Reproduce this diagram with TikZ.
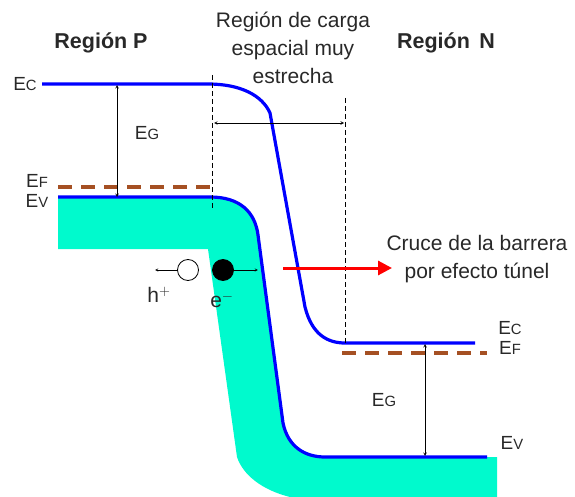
\documentclass[tikz,border=0pt]{standalone}
\usepackage{fontspec}
\setmainfont{Liberation Sans}
\usepackage{graphicx}
\usetikzlibrary{arrows.meta,positioning}
\definecolor{valcol}{RGB}{0,250,205}
\definecolor{fermicol}{RGB}{165,80,35}
\definecolor{txtcol}{RGB}{40,40,40}
\newcommand{\lev}[1]{E\scalebox{0.78}{#1}}

\begin{document}
\begin{tikzpicture}[
        >=stealth,
        x=1pt, y=-1pt,
        banda/.style={blue, line width=3.2pt, line join=round},
        fermi/.style={fermicol, line width=3.4pt, dash pattern=on 14pt off 9pt},
        borde/.style={black, thin, dash pattern=on 5pt off 3pt},
        medida/.style={<->, black, semithick},
        lbl/.style={text=txtcol, inner sep=0pt, font=\fontsize{19}{20}\selectfont},
        titulo/.style={text=txtcol, inner sep=0pt, font=\fontsize{21.5}{24}\selectfont\bfseries},
        nota/.style={text=txtcol, inner sep=0pt, align=center, font=\fontsize{21}{28}\selectfont},
        carga/.style={circle, draw=black, thick, minimum size=21pt, inner sep=0pt}
        ]
        \useasboundingbox (0,0) rectangle (575,497);

        % banda de valencia
        \fill[valcol] (58,197) -- (210,197) .. controls (240,197) and (255,212) .. (258,235)
            -- (283,423) .. controls (288,447) and (305,457) .. (325,457) -- (497,457)
            -- (497,497) -- (290,497) .. controls (262,490) and (243,475) .. (237,457)
            -- (208,249) -- (58,249) -- cycle;
        \draw[banda] (58,197) -- (210,197) .. controls (240,197) and (255,212) .. (258,235)
            -- (283,423) .. controls (288,447) and (305,457) .. (325,457) -- (487,457);

        % banda de conduccion
        \draw[banda] (42,84) -- (208,84) .. controls (240,84) and (262,95) .. (270,113)
            -- (305,307) .. controls (312,335) and (328,343) .. (345,343) -- (475,343);

        % niveles de Fermi
        \draw[fermi] (58,187) -- (211,187);
        \draw[fermi] (342,353) -- (487,353);

        % zona de carga espacial
        \coordinate (zi) at (212,75);
        \coordinate (zib) at (212,210);
        \coordinate (zd) at (345,98);
        \coordinate (zdb) at (345,343);
        \draw[borde] (zi) -- (zib);
        \draw[borde] (zd) -- (zdb);
        \coordinate (ai) at (214,123);
        \coordinate (ad) at (344,123);
        \draw[medida] (ai) -- (ad);

        % gaps
        \coordinate (gp1) at (117,85);
        \coordinate (gp2) at (117,197);
        \coordinate (gn1) at (425,344);
        \coordinate (gn2) at (425,456);
        \draw[medida] (gp1) -- (gp2);
        \draw[medida] (gn1) -- (gn2);

        % textos
        \node[titulo] (rp) at (101,43) {Región P};
        \node[titulo] (rn) at (446,43) {Región\, N};
        \node[nota] (zona) at (293,48) {Región de carga\\espacial muy\\estrecha};
        \node[nota] (tunel) at (477,259) {Cruce de la barrera\\por efecto túnel};

        \node[lbl] (ecp) at (25,84) {\lev{C}};
        \node[lbl] (efp) at (37,181) {\lev{F}};
        \node[lbl, below=6pt of efp] (evp) {\lev{V}};
        \node[lbl] (egp) at (147,133) {\lev{G}};
        \node[lbl] (ecn) at (510,328) {\lev{C}};
        \node[lbl, below=6pt of ecn] (efn) {\lev{F}};
        \node[lbl] (egn) at (384,400) {\lev{G}};
        \node[lbl] (evn) at (512,443) {\lev{V}};

        % hueco y electron
        \node[carga, fill=white] (h) at (188,270) {};
        \node[carga, fill=black] (e) at (223,270) {};
        \coordinate[left=22pt of h] (hf);
        \coordinate[right=24pt of e] (ef);
        \draw[->, black] (h) -- (hf);
        \draw[->, black] (e) -- (ef);
        \node[lbl, font=\fontsize{21}{24}\selectfont] (hl) at (159,295) {h$^{+}$};
        \node[lbl, font=\fontsize{21}{24}\selectfont] (el) at (222,300) {e$^{-}$};

        % efecto tunel
        \coordinate (t1) at (283,268);
        \coordinate (t2) at (392,268);
        \draw[red, line width=3pt, -{Triangle[length=14pt, width=14pt]}] (t1) -- (t2);
\end{tikzpicture}
\end{document}
